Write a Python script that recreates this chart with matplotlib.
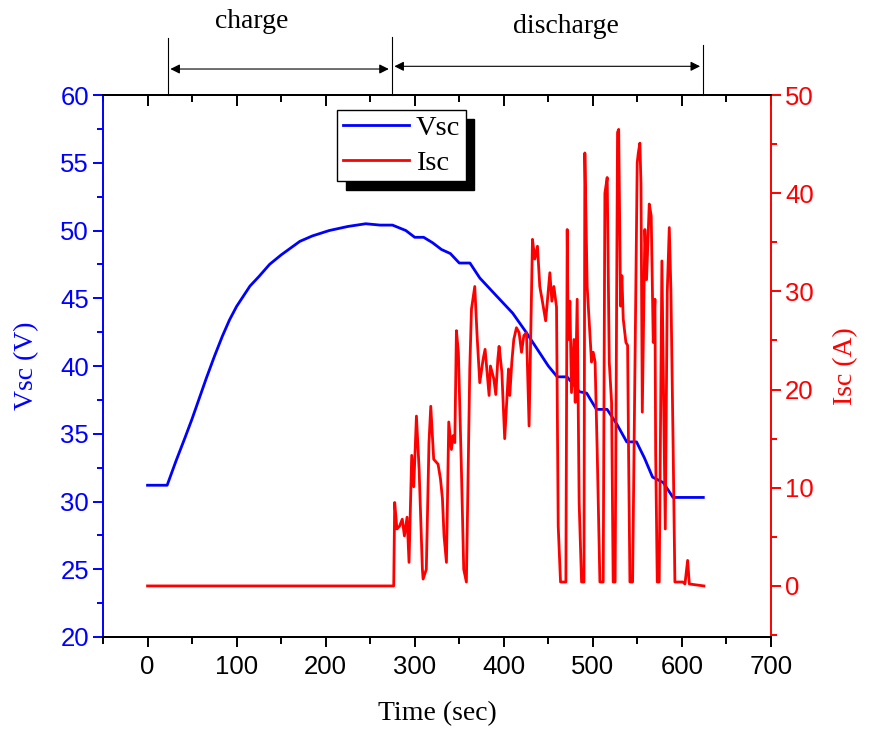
import numpy as np
import matplotlib.pyplot as plt
from matplotlib.ticker import MultipleLocator

# Supercapacitor voltage (left axis)
t_v = [0, 22, 32, 42, 50, 58, 66, 75, 84, 92, 100, 115, 125, 137, 150, 171, 185, 204, 225,
       245, 261, 275, 290, 300, 310, 320, 330, 340, 350, 362, 373, 390, 410, 425, 437, 450,
       460, 471, 485, 493, 504, 516, 527, 538, 549, 558, 567, 579, 590, 624]
vsc = [31.2, 31.2, 33.0, 34.7, 36.1, 37.6, 39.1, 40.7, 42.2, 43.4, 44.4, 45.9, 46.6, 47.5,
       48.2, 49.2, 49.6, 50.0, 50.3, 50.5, 50.4, 50.4, 50.0, 49.5, 49.5, 49.1, 48.6, 48.3,
       47.6, 47.6, 46.5, 45.3, 43.9, 42.5, 41.3, 40.0, 39.2, 39.2, 38.1, 38.0, 36.8, 36.8,
       35.7, 34.4, 34.4, 33.2, 31.8, 31.4, 30.3, 30.3]

# Supercapacitor current (right axis)
t_i = [0, 276.4, 277.5, 280, 283, 286, 288.4, 291.4, 293.6, 296.6, 298.9, 301.9, 304.9,
       308.6, 309.4, 313, 316, 318, 321.3, 326.2, 328.9, 331.1, 332.9, 335.6, 338.2, 341.2,
       343, 345, 346.8, 349, 352.4, 355, 358, 361.8, 363.7, 367.4, 370, 373, 376.8, 379,
       383.5, 385, 388.8, 391, 393.3, 394.7, 397.8, 401, 403, 405.3, 406.7, 409, 411.2,
       414.2, 417.2, 419.9, 422.5, 425.5, 428.4, 432.2, 434.8, 437.8, 440.4, 443.5, 447,
       451.7, 454, 456.2, 459.2, 461.1, 463.7, 469.7, 471.2, 472.3, 474.2, 476, 478.7,
       480.2, 482.4, 484.6, 487.3, 490, 491, 493.6, 496.6, 498.5, 500.4, 502.5, 504.9,
       507.9, 511.6, 513.5, 516.1, 518.4, 521, 522.8, 525, 527.7, 529, 531.1, 532.6, 534.1,
       537.1, 539, 540.1, 541.6, 544.6, 549.8, 551, 552.8, 554, 555.5, 558.4, 560.3, 563.3,
       565.5, 567.8, 569.7, 570.5, 572.3, 574.5, 577.5, 581.3, 583.5, 585.8, 587.6, 590,
       592.1, 601, 603.4, 606.4, 608.3, 624.7]
isc = [0, 0, 8.5, 5.8, 6.1, 6.8, 5.1, 7.0, 2.4, 13.3, 10.1, 17.3, 11.9,
       1.7, 0.7, 1.7, 14.6, 18.3, 12.9, 12.4, 10.9, 8.9, 5.1, 2.4, 16.7, 13.9,
       15.3, 14.6, 26.0, 23.8, 11.9, 1.7, 0.4, 22.1, 28.2, 30.5, 25.5, 20.7, 23.1, 24.1,
       19.4, 22.4, 21.1, 19.5, 23.1, 24.4, 21.8, 15.0, 18.3, 22.1, 19.4, 22.8, 25.1,
       26.3, 25.8, 23.8, 25.5, 25.8, 16.3, 35.3, 33.3, 34.6, 30.5, 28.9, 27.0,
       31.9, 29.0, 30.5, 28.4, 6.1, 0.4, 0.4, 36.3, 25.1, 29.0, 19.7, 25.1,
       18.7, 29.2, 8.5, 0.4, 0.4, 44.1, 30.5, 25.8, 22.8, 23.8, 22.8, 13.6,
       0.4, 0.4, 40.0, 41.6, 22.8, 18.7, 0.4, 0.4, 46.2, 46.5, 28.5, 31.6, 27.2,
       24.8, 24.5, 13.6, 0.4, 0.4, 43.1, 44.1, 45.1, 41.0, 17.7, 36.3, 31.2, 38.9,
       37.7, 24.8, 29.2, 13.6, 0.4, 0.4, 33.1, 5.8, 29.9, 36.5, 30.2, 15.0,
       0.4, 0.4, 0.2, 2.6, 0.2, 0.0]

# phase markers above the plot
charge_span = [22.5, 274]
discharge_span = [274, 623.5]

serif = 'Liberation Serif'
sans = 'Liberation Sans'

fig = plt.figure(figsize=(8.7, 7.31), dpi=100)
ax = fig.add_axes([0.1184, 0.1286, 0.7678, 0.7414])
ax2 = ax.twinx()

l1, = ax.plot(t_v, vsc, color='#0000FF', lw=2.0, label='Vsc')
l2, = ax2.plot(t_i, isc, color='#FF0000', lw=2.0, label='Isc')

ax.set_xlim(-50, 700)
ax.set_ylim(20, 60)
ax2.set_ylim(-5.2, 50)

ax.xaxis.set_major_locator(MultipleLocator(100))
ax.xaxis.set_minor_locator(MultipleLocator(50))
ax.yaxis.set_major_locator(MultipleLocator(5))
ax.yaxis.set_minor_locator(MultipleLocator(2.5))
ax2.yaxis.set_major_locator(MultipleLocator(10))
ax2.yaxis.set_minor_locator(MultipleLocator(5))

for a in (ax, ax2):
    for s in a.spines.values():
        s.set_linewidth(1.4)
ax.spines['right'].set_visible(False)
ax.spines['left'].set_color('#0000FF')
ax2.spines['left'].set_visible(False)
ax2.spines['right'].set_color('#FF0000')

ax.tick_params(axis='x', which='major', direction='out', length=7, width=1.4,
               labelsize=18.5, pad=6)
ax.tick_params(axis='x', which='minor', direction='out', length=5, width=1.4)
ax.tick_params(axis='y', which='major', direction='out', length=7, width=1.4,
               color='#0000FF', labelcolor='#0000FF', labelsize=18.5, pad=3)
ax.tick_params(axis='y', which='minor', direction='out', length=4, width=1.4, color='#0000FF')
ax2.tick_params(axis='y', which='major', direction='out', length=7, width=1.4,
                color='#FF0000', labelcolor='#FF0000', labelsize=18.5, pad=3)
ax2.tick_params(axis='y', which='minor', direction='out', length=4, width=1.4, color='#FF0000')

# inward ticks on the top frame
top = ax.secondary_xaxis('top')
top.xaxis.set_major_locator(MultipleLocator(100))
top.xaxis.set_minor_locator(MultipleLocator(50))
top.tick_params(which='major', direction='in', length=8, width=1.4, labeltop=False)
top.tick_params(which='minor', direction='in', length=5, width=1.4)
top.spines['top'].set_linewidth(1.4)

for lab in ax.get_xticklabels() + ax.get_yticklabels() + ax2.get_yticklabels():
    lab.set_fontfamily(sans)

ax.set_xlabel('Time (sec)', fontsize=20, fontfamily=serif, labelpad=16)
ax.set_ylabel('Vsc (V)', fontsize=20, fontfamily=serif, color='#0000FF', labelpad=15)
ax2.set_ylabel('Isc (A)', fontsize=20, fontfamily=serif, color='#FF0000',
               rotation=90, labelpad=14)

leg = ax2.legend([l1, l2], ['Vsc', 'Isc'], loc='upper left', bbox_to_anchor=(0.351, 0.973),
                 prop={'family': serif, 'size': 20.5}, fancybox=False, edgecolor='black',
                 framealpha=1, handlelength=2.3, handletextpad=0.25, borderpad=0.2,
                 labelspacing=0.3, borderaxespad=0,
                 shadow={'ox': 6, 'oy': -6.5, 'facecolor': 'black', 'edgecolor': 'black',
                         'alpha': 1})
leg.get_frame().set_linewidth(1.0)

# charge / discharge markers
trans = ax.get_xaxis_transform()
for xv, ytop in [(charge_span[0], 1.105), (charge_span[1], 1.107), (discharge_span[1], 1.092)]:
    ax.plot([xv, xv], [1.0, ytop], color='black', lw=0.8, transform=trans, clip_on=False)
ax.annotate('', xy=(charge_span[1], 1.048), xytext=(charge_span[0], 1.048),
            xycoords=trans, textcoords=trans,
            arrowprops=dict(arrowstyle='<|-|>', color='black', lw=0.8, mutation_scale=14))
ax.annotate('', xy=(discharge_span[1], 1.053), xytext=(discharge_span[0], 1.053),
            xycoords=trans, textcoords=trans,
            arrowprops=dict(arrowstyle='<|-|>', color='black', lw=0.8, mutation_scale=14))
ax.text(117, 1.136, 'charge', transform=trans, ha='center', va='center',
        fontsize=20, fontfamily=serif)
ax.text(470, 1.126, 'discharge', transform=trans, ha='center', va='center',
        fontsize=20, fontfamily=serif)

fig.savefig('out.png', dpi=100)
